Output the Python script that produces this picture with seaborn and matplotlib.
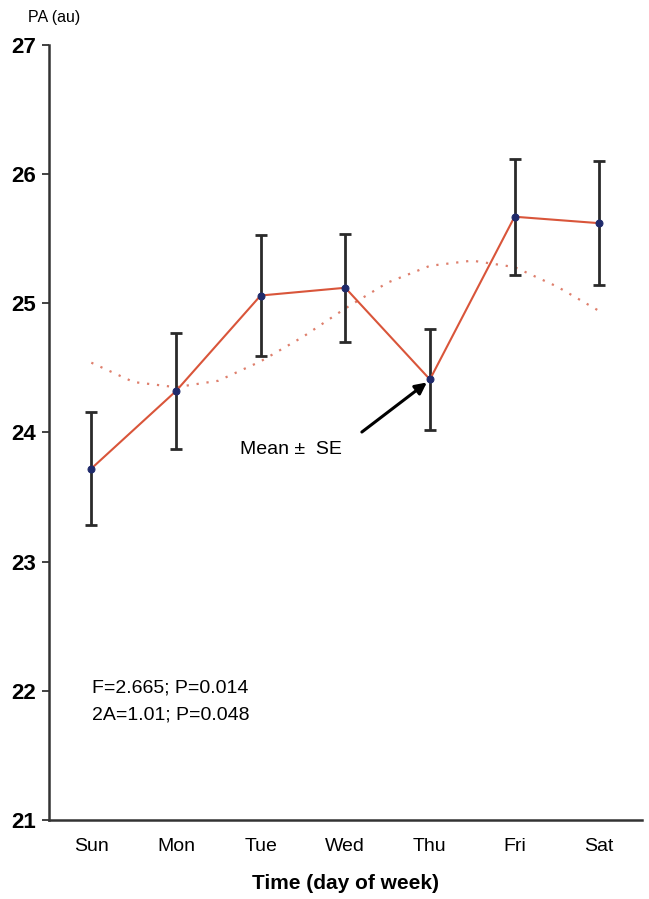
import numpy as np
import matplotlib
matplotlib.use("Agg")
import matplotlib.pyplot as plt
import seaborn as sns
import pandas as pd

days = ["Sun", "Mon", "Tue", "Wed", "Thu", "Fri", "Sat"]
pa_mean = [23.72, 24.32, 25.06, 25.12, 24.41, 25.67, 25.62]
pa_se = [0.44, 0.45, 0.47, 0.42, 0.39, 0.45, 0.48]

# fitted cosinor curve at half-day steps
fit_t = [0, 0.5, 1, 1.5, 2, 2.5, 3, 3.5, 4, 4.5, 5, 5.5, 6]
fit_pa = [24.54, 24.39, 24.35, 24.40, 24.55, 24.74, 24.96, 25.16, 25.29, 25.33, 25.28, 25.13, 24.94]

sns.set_style("white")
plt.rcParams['font.family'] = ['Liberation Sans', 'DejaVu Sans']
plt.rcParams['text.color'] = 'black'
plt.rcParams['xtick.color'] = 'black'
plt.rcParams['ytick.color'] = 'black'
plt.rcParams['axes.labelcolor'] = 'black'

fig = plt.figure(figsize=(6.49, 8.99), dpi=100)
ax = fig.add_axes([0.0755, 0.088, 0.913, 0.862])

df = pd.DataFrame({"x": np.arange(len(days)), "pa": pa_mean})
fit = pd.DataFrame({"t": fit_t, "pa": fit_pa})

sns.lineplot(data=fit, x="t", y="pa", ax=ax, color="#de7f6c", lw=1.6,
             linestyle=(0, (1, 3.5)), zorder=1)
ax.errorbar(df["x"], df["pa"], yerr=pa_se, fmt="none", ecolor="#2a2a2a",
            elinewidth=2, capsize=4.5, capthick=2, zorder=2)
sns.lineplot(data=df, x="x", y="pa", ax=ax, color="#d9553a", lw=1.5,
             marker="o", markersize=5, markerfacecolor="#1f2a6b",
             markeredgecolor="#1f2a6b", zorder=3)

ax.set_xlim(-0.5, 6.5)
ax.set_ylim(21, 27)
ax.set_xticks(range(len(days)))
ax.set_xticklabels(days, fontsize=14)
ax.set_xticks(np.arange(0.5, 6.0, 1.0), minor=True)
ax.tick_params(axis="x", which="major", length=0, pad=13)
ax.tick_params(axis="x", which="minor", length=4, width=1.3, color="#333333", direction="out")
ax.set_yticks([21, 22, 23, 24, 25, 26, 27])
ax.set_yticklabels(["21", "22", "23", "24", "25", "26", "27"], fontsize=16, fontweight="bold")
ax.tick_params(axis="y", length=5, width=1.3, color="#333333", direction="out", pad=4, left=True)

for s in ["top", "right"]:
    ax.spines[s].set_visible(False)
for s in ["left", "bottom"]:
    ax.spines[s].set_linewidth(1.8)
    ax.spines[s].set_color("#333333")

ax.set_xlabel("Time (day of week)", fontsize=15, fontweight="bold", labelpad=14)
ax.set_ylabel("")
fig.text(0.043, 0.981, "PA (au)", fontsize=11.5, ha="left", va="center")

ax.annotate("", xy=(3.99, 24.40), xytext=(3.17, 23.99),
            arrowprops=dict(arrowstyle="-|>", color="black", lw=2.2, mutation_scale=17))
ax.text(1.76, 23.87, "Mean \u00b1  SE", fontsize=14, ha="left", va="center")
ax.text(0.01, 22.02, "F=2.665; P=0.014", fontsize=14, ha="left", va="center")
ax.text(0.01, 21.81, "2A=1.01; P=0.048", fontsize=14, ha="left", va="center")

fig.savefig("out.png", dpi=100)
